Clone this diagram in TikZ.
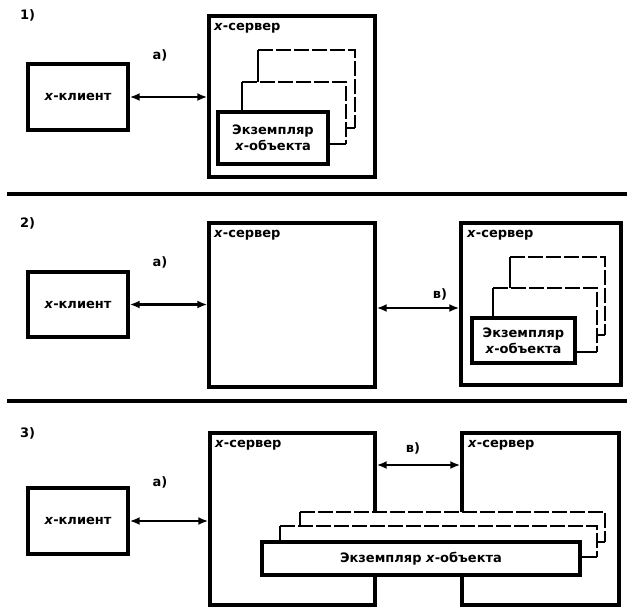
\documentclass[tikz,border=0pt]{standalone}
\usepackage{fontspec}
\setmainfont{DejaVu Sans}
\usetikzlibrary{arrows.meta}

\begin{document}
\begin{tikzpicture}[x=1pt, y=-1pt,
    every node/.style={font=\bfseries\fontsize{13}{16}\selectfont},
    box/.style={rectangle, draw, line width=3.4pt, inner sep=0pt},
    sheet/.style={line width=2.2pt},
    dashedge/.style={dash pattern=on 15pt off 3pt},
    objbox/.style={rectangle, draw, fill=white, line width=3.2pt, inner sep=0pt, align=center},
    link/.style={<->, >={Latex[length=10pt,width=8pt]}, line width=2.4pt},
    tag/.style={inner sep=0pt, anchor=north west}]

    \useasboundingbox (0,0) rectangle (627,606);

    % separators
    \draw[line width=4pt] (7,194) -- (627,194);
    \draw[line width=4pt] (7,401) -- (627,401);

    % ---------- 1)
    \node[tag] (num1) at (20,9) {1)};
    \node[box, minimum width=100pt, minimum height=66pt] (client1) at (78,97) {\textit{x}-клиент};
    \node[box, minimum width=166pt, minimum height=161pt] (server1) at (292,96.5) {};
    \node[tag] (srvlabel1) at (214,23) {\textit{x}-сервер};

    \fill[white] (258,50) rectangle (355,128);
    \draw[sheet] (258,82) -- (258,50);
    \draw[sheet, dashedge] (258,50) -- (355,50) -- (355,128);
    \draw[sheet] (355,128) -- (346,128);
    \fill[white] (242,82) rectangle (346,144);
    \draw[sheet] (242,112) -- (242,82);
    \draw[sheet, dashedge] (242,82) -- (346,82) -- (346,144);
    \draw[sheet] (346,144) -- (328,144);
    \node[objbox, minimum width=110pt, minimum height=52pt] (obj1) at (273,138) {Экземпляр\\\textit{x}-объекта};

    \draw[link] (client1.east) -- (client1.east -| server1.west);
    \node (lab1) at (160,55) {а)};

    % ---------- 2)
    \node[tag] (num2) at (20,217) {2)};
    \node[box, minimum width=100pt, minimum height=65pt] (client2) at (78,304.5) {\textit{x}-клиент};
    \node[box, minimum width=166pt, minimum height=164pt] (server2) at (292,305) {};
    \node[tag] (srvlabel2) at (214,230) {\textit{x}-сервер};
    \node[box, minimum width=160pt, minimum height=162pt] (remote2) at (541,304) {};
    \node[tag] (rmtlabel2) at (467,230) {\textit{x}-сервер};

    \fill[white] (510,257) rectangle (605,335);
    \draw[sheet] (510,288) -- (510,257);
    \draw[sheet, dashedge] (510,257) -- (605,257) -- (605,335);
    \draw[sheet] (605,335) -- (597,335);
    \fill[white] (493,288) rectangle (597,352);
    \draw[sheet] (493,318) -- (493,288);
    \draw[sheet, dashedge] (493,288) -- (597,288) -- (597,352);
    \draw[sheet] (597,352) -- (575,352);
    \node[objbox, minimum width=103pt, minimum height=45pt] (obj2) at (523.5,340.5) {Экземпляр\\\textit{x}-объекта};

    \draw[link] (client2.east) -- (client2.east -| server2.west);
    \node (lab2) at (160,262) {а)};
    \coordinate (mid2) at (375,308);
    \draw[link] (mid2 -| server2.east) -- (mid2 -| remote2.west);
    \node (lab3) at (440,294) {в)};

    % ---------- 3)
    \node[tag] (num3) at (20,427) {3)};
    \node[box, minimum width=165pt, minimum height=172pt] (server3) at (292.5,519) {};
    \node[box, minimum width=100pt, minimum height=66pt] (client3) at (78,521) {\textit{x}-клиент};
    \node[tag] (srvlabel3) at (215,440) {\textit{x}-сервер};
    \node[box, minimum width=157pt, minimum height=172pt] (remote3) at (540.5,519) {};
    \node[tag] (rmtlabel3) at (468,440) {\textit{x}-сервер};

    \fill[white] (300,512) rectangle (605,542);
    \draw[sheet] (300,526) -- (300,512);
    \draw[sheet, dashedge] (300,512) -- (605,512) -- (605,542);
    \draw[sheet] (605,542) -- (597,542);
    \fill[white] (280,526) rectangle (597,557);
    \draw[sheet] (280,542) -- (280,526);
    \draw[sheet, dashedge] (280,526) -- (597,526) -- (597,557);
    \draw[sheet] (597,557) -- (580,557);
    \node[objbox, minimum width=318pt, minimum height=33pt] (obj3) at (421,558.5) {Экземпляр \textit{x}-объекта};

    \draw[link] (client3.east) -- (client3.east -| server3.west);
    \node (lab4) at (160,482) {а)};
    \coordinate (mid3) at (375,465);
    \draw[link] (mid3 -| server3.east) -- (mid3 -| remote3.west);
    \node (lab5) at (413,448) {в)};

\end{tikzpicture}
\end{document}
